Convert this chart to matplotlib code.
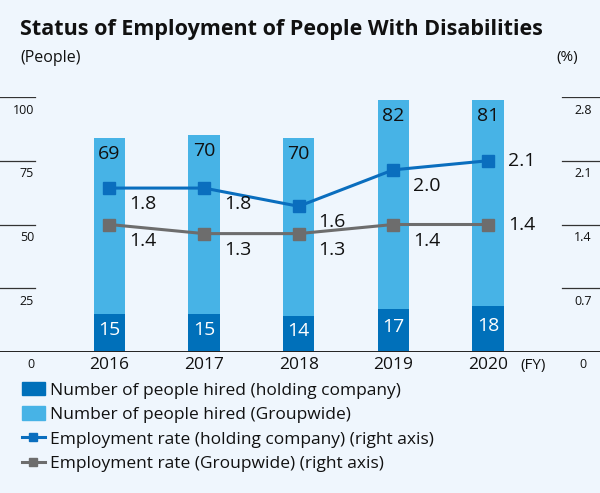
import matplotlib.pyplot as plt
from matplotlib.patches import Patch
from matplotlib.lines import Line2D

plt.rcParams['font.family'] = ['Open Sans', 'DejaVu Sans']

# data
years = ['2016', '2017', '2018', '2019', '2020']
hired_holding = [15, 15, 14, 17, 18]
hired_group = [69, 70, 70, 82, 81]
rate_holding = [1.8, 1.8, 1.6, 2.0, 2.1]
rate_group = [1.4, 1.3, 1.3, 1.4, 1.4]
left_ticks = [0, 25, 50, 75, 100]
right_ticks = [0, 0.7, 1.4, 2.1, 2.8]

legend_labels = ['Number of people hired (holding company)',
                 'Number of people hired (Groupwide)',
                 'Employment rate (holding company) (right axis)',
                 'Employment rate (Groupwide) (right axis)']

c_dark = '#0070BA'
c_light = '#47B3E6'
c_line1 = '#0A6EBE'
c_line2 = '#6D6D6D'
bg = '#EFF6FD'

W, H = 600, 493
fig = plt.figure(figsize=(W / 100, H / 100), dpi=100, facecolor=bg)
ax = fig.add_axes([0, (H - 352) / H, 1, 255 / H])
ax.set_facecolor('none')
ax.axis('off')
ax.set_xlim(-1.157, 5.185)
ax.set_ylim(0, 100)

ax2 = ax.twinx()
ax2.axis('off')
ax2.set_ylim(0, 2.8)

x = list(range(len(years)))

# bars
ax.bar(x, hired_holding, width=0.33, color=c_dark, zorder=2)
ax.bar(x, hired_group, width=0.33, bottom=hired_holding, color=c_light, zorder=2)

for i in x:
    top = hired_holding[i] + hired_group[i]
    ax.annotate(str(hired_group[i]), (i, top), xytext=(0, -7),
                textcoords='offset pixels', ha='center', va='top',
                fontsize=14, color='#111111', zorder=3)
    ax.annotate(str(hired_holding[i]), (i, hired_holding[i] / 2), xytext=(0, 3),
                textcoords='offset pixels', ha='center', va='center',
                fontsize=14, color='white', zorder=3)
    ax.annotate(years[i], (i, 0), xytext=(0, -13), textcoords='offset pixels',
                ha='center', va='center', fontsize=12.5, color='#111111')

# baseline
ax.axhline(0, color='#222222', lw=1.4, zorder=4)

# left scale
for t in left_ticks:
    if t > 0:
        ax.axhline(t, xmin=0, xmax=35 / W, color='#333333', lw=0.9)
    ax.annotate(str(t), (34 / W, t), xycoords=ax.get_yaxis_transform(),
                xytext=(0, -13), textcoords='offset pixels',
                ha='right', va='center', fontsize=9, color='#111111')

# right scale
for t in right_ticks:
    if t > 0:
        ax2.axhline(t, xmin=562 / W, xmax=1, color='#333333', lw=0.9)
    lab = '0' if t == 0 else '%.1f' % t
    ax2.annotate(lab, (583 / W, t), xycoords=ax2.get_yaxis_transform(),
                 xytext=(0, -13), textcoords='offset pixels',
                 ha='center', va='center', fontsize=9, color='#111111')

# lines
ax2.plot(x, rate_holding, color=c_line1, marker='s', ms=8, lw=2.2, zorder=5)
ax2.plot(x, rate_group, color=c_line2, marker='s', ms=8, lw=2.2, zorder=5)

for i in x:
    dy = 0 if i == len(x) - 1 else -16
    for vals in (rate_holding, rate_group):
        ax2.annotate('%.1f' % vals[i], (i, vals[i]), xytext=(20, dy),
                     textcoords='offset pixels', ha='left', va='center',
                     fontsize=14, color='#111111', zorder=6)

# titles and units
fig.text(20 / W, 1 - 29 / H, 'Status of Employment of People With Disabilities',
         fontsize=15.5, fontweight='bold', va='center', color='#111111')
fig.text(20 / W, 1 - 58 / H, '(People)', fontsize=11.5, va='center', color='#111111')
fig.text(567 / W, 1 - 58 / H, '(%)', fontsize=11, ha='center', va='center', color='#111111')
fig.text(533 / W, 1 - 365 / H, '(FY)', fontsize=11, ha='center', va='center', color='#111111')

# legend
handles = [Patch(color=c_dark), Patch(color=c_light),
           Line2D([], [], color=c_line1, marker='s', ms=6, lw=2.2),
           Line2D([], [], color=c_line2, marker='s', ms=6, lw=2.2)]
fig.legend(handles, legend_labels, loc='upper left',
           bbox_to_anchor=(22 / W, 1 - 382 / H), frameon=False,
           fontsize=12.5, labelspacing=0.45, handlelength=1.3,
           handleheight=0.8, handletextpad=0.3, borderpad=0, borderaxespad=0,
           labelcolor='#111111')

fig.savefig('out.png', dpi=100, facecolor=bg)
